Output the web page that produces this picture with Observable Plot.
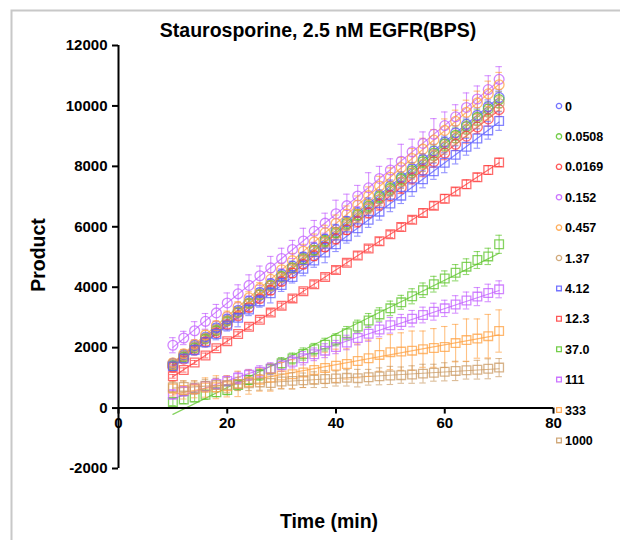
<!DOCTYPE html>
<html><head><meta charset="utf-8">
<script src="https://cdn.jsdelivr.net/npm/d3@7"></script>
<script src="https://cdn.jsdelivr.net/npm/@observablehq/plot@0.6"></script>
<style>
body{margin:0;background:#fff}
#chart{position:relative;width:620px;height:540px}
#chart svg{position:absolute;left:0;top:0}
</style>
</head><body><div id="chart"></div>
<script>
const titleText = "Staurosporine, 2.5 nM EGFR(BPS)";
const xLabel = "Time (min)";
const yLabel = "Product";
const xTicks = [0, 20, 40, 60, 80];
const yTicks = [-2000, 0, 2000, 4000, 6000, 8000, 10000, 12000];
const times = [10,12,14,16,18,20,22,24,26,28,30,32,34,36,38,40,42,44,46,48,50,52,54,56,58,60,62,64,66,68,70];
const concentrations = ["0","0.0508","0.0169","0.152","0.457","1.37","4.12","12.3","37.0","111","333","1000"];
const seriesSymbols = ["circle","circle","circle","circle","circle","circle","square","square","square","square","square","square"];
const seriesColors = ["#5b5bff","#5cc42a","#ff3b3b","#c25cff","#ffa040","#c99a63","#5b5bff","#ff3b3b","#5cc42a","#c25cff","#ffa040","#c99a63"];

const v0 = [1480,1760,2070,2350,2660,2950,3240,3540,3830,4120,4430,4700,5010,5300,5590,5900,6180,6470,6770,7050,7350,7640,7920,8230,8510,8800,9110,9390,9690,9980,10280];
const e0 = [90,100,110,95,120,130,110,140,120,150,135,160,140,170,150,180,160,150,190,170,200,180,210,190,220,200,230,210,240,220,250];
const v1 = [1400,1690,1990,2290,2570,2880,3170,3470,3750,4060,4350,4640,4940,5220,5530,5810,6120,6400,6690,6990,7270,7580,7860,8160,8440,8740,9030,9320,9620,9900,10210];
const e1 = [100,110,90,120,130,110,140,120,150,130,160,140,170,150,180,160,190,170,200,180,210,190,220,200,230,210,240,220,250,230,260];
const v2 = [1350,1620,1920,2190,2490,2760,3050,3330,3620,3900,4190,4470,4760,5040,5330,5600,5900,6170,6460,6740,7030,7300,7600,7870,8160,8440,8730,9000,9300,9570,9880];
const e2 = [80,90,100,110,95,120,105,130,115,140,125,150,135,160,145,170,155,180,165,190,175,200,185,210,195,220,205,230,215,240,225];
const v3 = [2080,2320,2560,2870,3150,3480,3780,4060,4380,4640,4950,5250,5530,5850,6120,6430,6700,7020,7290,7600,7880,8170,8480,8760,9060,9350,9640,9950,10230,10540,10880];
const e3 = [250,220,300,260,280,330,300,350,320,380,340,300,420,360,330,450,380,350,500,400,370,560,420,380,520,450,400,480,430,460,420];
const v4 = [1500,1800,2110,2420,2730,3030,3350,3650,3960,4260,4580,4880,5190,5500,5800,6110,6420,6720,7030,7350,7640,7960,8260,8570,8870,9190,9490,9790,10100,10400,10700];
const e4 = [120,140,130,160,150,180,170,200,190,220,210,240,230,260,250,280,270,300,290,320,310,340,330,360,350,380,370,400,390,420,410];
const v5 = [1450,1730,2030,2310,2600,2890,3180,3460,3760,4040,4330,4620,4900,5190,5480,5760,6060,6340,6630,6910,7210,7490,7780,8060,8350,8640,8930,9210,9500,9790,10080];
const e5 = [100,120,110,130,120,140,130,150,140,160,150,170,160,180,170,190,180,200,190,210,200,220,210,230,220,240,230,250,240,260,250];
const v6 = [1380,1640,1920,2180,2450,2730,2990,3260,3530,3800,4070,4340,4610,4880,5150,5420,5690,5950,6230,6500,6770,7030,7310,7570,7840,8120,8380,8650,8920,9190,9500];
const e6 = [150,130,170,160,190,180,300,200,190,320,210,200,230,220,340,240,230,260,250,280,270,260,300,280,270,330,300,280,320,290,310];
const v7 = [1050,1260,1510,1740,1980,2210,2450,2690,2920,3160,3390,3630,3870,4100,4340,4570,4810,5050,5280,5520,5750,5990,6230,6460,6700,6930,7170,7410,7640,7880,8130];
const e7 = [60,70,65,80,70,85,75,90,80,95,85,100,90,105,95,110,100,115,105,120,110,125,115,130,120,135,125,140,130,145,135];
const v8 = [200,280,350,440,520,600,760,930,1100,1290,1480,1640,1790,1950,2100,2260,2480,2700,2900,3100,3300,3500,3700,3900,4100,4290,4480,4680,4900,5020,5420];
const e8 = [120,130,140,150,140,160,170,150,180,170,190,180,200,190,210,200,220,210,230,220,240,230,250,240,260,250,270,260,280,270,300];
const v9 = [450,560,640,720,800,900,1000,1100,1200,1310,1420,1530,1650,1780,1900,2020,2170,2320,2460,2600,2740,2850,2960,3080,3190,3300,3430,3560,3690,3810,3930];
const e9 = [150,160,170,160,180,170,190,180,200,190,210,200,220,210,230,220,240,230,250,240,260,250,270,260,280,270,290,280,300,290,280];
const v10 = [650,600,620,680,690,720,800,860,940,1010,1080,1120,1180,1260,1330,1400,1460,1560,1650,1760,1850,1870,1900,1950,1990,2020,2150,2250,2300,2380,2550];
const e10 = [250,300,280,320,380,350,420,400,380,450,430,480,500,460,520,550,500,560,600,540,580,620,650,600,640,680,620,700,650,720,700];
const v11 = [690,700,680,740,760,760,800,820,850,830,880,900,920,940,960,980,1000,990,1020,1050,1080,1090,1110,1140,1170,1200,1230,1250,1270,1300,1340];
const e11 = [180,200,220,210,230,250,220,240,260,230,250,270,240,260,280,250,270,290,260,280,300,270,290,310,280,300,320,290,310,330,300];

const seriesValues = [v0,v1,v2,v3,v4,v5,v6,v7,v8,v9,v10,v11];
const seriesErrors = [e0,e1,e2,e3,e4,e5,e6,e7,e8,e9,e10,e11];

const rows = [];
concentrations.forEach((c, i) => {
  times.forEach((t, j) => {
    rows.push({c, t, v: seriesValues[i][j], e: seriesErrors[i][j]});
  });
});

const W = 620, H = 540, mL = 118, mR = 67, mT = 45, mB = 72;
const yDom = [-2000, 12000];
const xDom = [0, 80];
// offset that moves the x axis from the bottom of the frame to y = 0
const axisDy = -(H - mT - mB) * (0 - yDom[0]) / (yDom[1] - yDom[0]);
const font = "'Liberation Sans', Arial, Helvetica, sans-serif";
const capHalf = 0.6;

const plot = Plot.plot({
  width: W, height: H,
  marginLeft: mL, marginRight: mR, marginTop: mT, marginBottom: mB,
  x: {domain: xDom},
  y: {domain: yDom},
  color: {domain: concentrations, range: seriesColors},
  symbol: {domain: concentrations, range: seriesSymbols},
  style: {fontFamily: font, fontWeight: "bold", fontSize: "15px", color: "#000", background: "transparent", overflow: "visible"},
  marks: [
    Plot.linearRegressionY(rows, {x: "t", y: "v", stroke: "c", ci: 0, strokeWidth: 1.2, strokeOpacity: 0.75}),
    Plot.ruleX(rows, {x: "t", y1: d => d.v - d.e, y2: d => d.v + d.e, stroke: "c", strokeWidth: 1.1, strokeOpacity: 0.65}),
    Plot.ruleY(rows, {y: d => d.v + d.e, x1: d => d.t - capHalf, x2: d => d.t + capHalf, stroke: "c", strokeWidth: 1.1, strokeOpacity: 0.65}),
    Plot.ruleY(rows, {y: d => d.v - d.e, x1: d => d.t - capHalf, x2: d => d.t + capHalf, stroke: "c", strokeWidth: 1.1, strokeOpacity: 0.65}),
    Plot.dot(rows, {x: "t", y: "v", stroke: "c", symbol: "c", r: 4.9, fill: "none", strokeWidth: 1.3, strokeOpacity: 0.75}),
    Plot.ruleX([0], {y1: yDom[0], y2: yDom[1], stroke: "#000", strokeWidth: 2}),
    Plot.ruleY([0], {x1: xDom[0], x2: xDom[1], stroke: "#000", strokeWidth: 2}),
    Plot.axisY({ticks: yTicks, tickSize: 6, tickPadding: 5, tickFormat: d => String(d), label: null, strokeWidth: 2}),
    Plot.axisX({ticks: xTicks, tickSize: 6, tickPadding: 3, tickFormat: d => String(d), label: null, dy: axisDy, strokeWidth: 2})
  ]
});

document.getElementById("chart").appendChild(plot);

const svg = d3.select(plot);
// outer light border (top and left edges)
svg.append("path")
  .attr("d", `M11.5,${H} L11.5,10.5 L${W},10.5`)
  .attr("fill", "none").attr("stroke", "#c8c8c8").attr("stroke-width", 2);

svg.append("text").text(titleText)
  .attr("x", 318).attr("y", 37).attr("text-anchor", "middle")
  .style("font-family", font).style("font-weight", "bold").style("font-size", "19.5px").attr("fill", "#000");

svg.append("text").text(yLabel)
  .attr("transform", "translate(45,255) rotate(-90)").attr("text-anchor", "middle")
  .style("font-family", font).style("font-weight", "bold").style("font-size", "19.5px").attr("fill", "#000");

svg.append("text").text(xLabel)
  .attr("x", 329).attr("y", 528).attr("text-anchor", "middle")
  .style("font-family", font).style("font-weight", "bold").style("font-size", "19.5px").attr("fill", "#000");

// legend
const legendY0 = 106, legendStep = 30.4;
const lg = svg.append("g").attr("text-anchor", "start");
concentrations.forEach((c, i) => {
  const y = legendY0 + i * legendStep;
  const sym = d3.symbol(seriesSymbols[i] === "circle" ? d3.symbolCircle : d3.symbolSquare, 22)();
  lg.append("path").attr("d", sym).attr("transform", `translate(559,${y})`)
    .attr("fill", "none").attr("stroke", seriesColors[i]).attr("stroke-width", 1.3).attr("stroke-opacity", 0.85);
  lg.append("text").text(c).attr("x", 565).attr("y", y + 4.5).attr("text-anchor", "start")
    .style("font-family", font).style("font-weight", "bold").style("font-size", "12.5px").attr("fill", "#000");
});
</script>
</body></html>
